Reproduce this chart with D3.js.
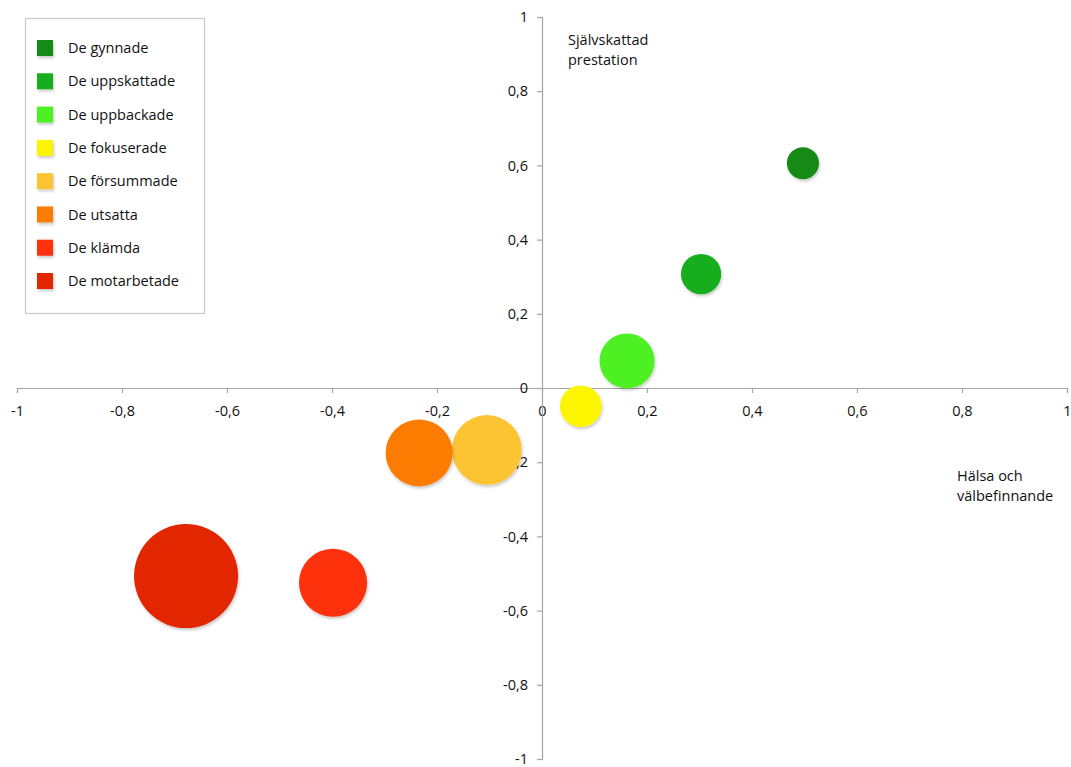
<!DOCTYPE html>
<html>
<head>
<meta charset="utf-8">
<script src="https://cdn.jsdelivr.net/npm/d3@7/dist/d3.min.js"></script>
<style>
  html, body { margin: 0; padding: 0; background: #fff; }
  svg { display: block; font-family: "Open Sans", sans-serif; }
</style>
</head>
<body>
<svg id="chart" width="1071" height="767"></svg>
<script>
// ---- Data ----
const categories = ["De gynnade", "De uppskattade", "De uppbackade", "De fokuserade",
                    "De försummade", "De utsatta", "De klämda", "De motarbetade"];
const xValues = [0.497, 0.303, 0.162, 0.074, -0.105, -0.234, -0.398, -0.678];   // Hälsa och välbefinnande
const yValues = [0.606, 0.307, 0.073, -0.049, -0.167, -0.175, -0.525, -0.507];  // Självskattad prestation
const sizes   = [9.5, 15, 28, 16, 45, 41.5, 43, 100];
const colors  = ["#138a13", "#16ae1c", "#4ef020", "#fcf500", "#fcc431", "#fb7c05", "#fd300a", "#e22502"];
const tickValues = [-1, -0.8, -0.6, -0.4, -0.2, 0, 0.2, 0.4, 0.6, 0.8, 1];
const tickLabels = ["-1", "-0,8", "-0,6", "-0,4", "-0,2", "0", "0,2", "0,4", "0,6", "0,8", "1"];
const xTitle = ["Hälsa och", "välbefinnande"];
const yTitle = ["Självskattad", "prestation"];

// ---- Layout ----
const svg = d3.select("#chart");
const x = d3.scaleLinear().domain([-1, 1]).range([17, 1067]);
const y = d3.scaleLinear().domain([-1, 1]).range([759, 17]);
const r = d3.scaleSqrt().domain([0, 100]).range([0, 52]);
const labelOf = v => tickLabels[tickValues.indexOf(v)];
const textColor = "#111";

const defs = svg.append("defs");
const f = defs.append("filter").attr("id", "shadow")
  .attr("x", "-30%").attr("y", "-30%").attr("width", "160%").attr("height", "160%");
f.append("feDropShadow").attr("dx", 1).attr("dy", 2).attr("stdDeviation", 1.5)
  .attr("flood-color", "#000").attr("flood-opacity", 0.22);

const axisColor = "#a6a6a6";

// X axis
const gx = svg.append("g").attr("transform", `translate(0,${y(0)})`)
  .call(d3.axisBottom(x).tickValues(tickValues).tickFormat(labelOf)
        .tickSize(5).tickSizeOuter(5).tickPadding(10));
// Y axis
const gy = svg.append("g").attr("transform", `translate(${x(0)},0)`)
  .call(d3.axisLeft(y).tickValues(tickValues).tickFormat(labelOf)
        .tickSize(5).tickSizeOuter(5).tickPadding(9));

[gx, gy].forEach(g => {
  g.select(".domain").attr("stroke", axisColor).attr("stroke-width", 1.2);
  g.selectAll(".tick line").attr("stroke", axisColor).attr("stroke-width", 1.2);
  g.selectAll(".tick text").attr("fill", textColor).style("font-size", "14.5px")
    .style("font-family", "'Open Sans', sans-serif");
});
gx.selectAll(".tick text").attr("dy", "0.9em");

// Axis titles
svg.append("text").attr("x", 568).attr("y", 45).attr("fill", textColor)
  .style("font-size", "14.5px")
  .selectAll("tspan").data(yTitle).join("tspan")
  .attr("x", 568).attr("dy", (d, i) => i ? 20 : 0).text(d => d);
svg.append("text").attr("x", 957).attr("y", 481).attr("fill", textColor)
  .style("font-size", "14.5px")
  .selectAll("tspan").data(xTitle).join("tspan")
  .attr("x", 957).attr("dy", (d, i) => i ? 20 : 0).text(d => d);

// Bubbles (largest first so smaller are on top)
const data = categories.map((c, i) => ({ c, x: xValues[i], y: yValues[i], s: sizes[i], col: colors[i] }));
svg.append("g").selectAll("circle")
  .data(data.slice().sort((a, b) => b.s - a.s))
  .join("circle")
  .attr("cx", d => x(d.x)).attr("cy", d => y(d.y)).attr("r", d => r(d.s))
  .attr("fill", d => d.col).attr("filter", "url(#shadow)");

// Legend
const legend = svg.append("g");
legend.append("rect").attr("x", 25.5).attr("y", 18.5).attr("width", 179).attr("height", 295)
  .attr("fill", "#fff").attr("stroke", "#c8c8c8").attr("stroke-width", 1.2);
const ly = d3.scalePoint().domain(categories).range([48, 281]);
const li = legend.selectAll("g.item").data(data).join("g").attr("class", "item")
  .attr("transform", d => `translate(0,${ly(d.c)})`);
li.append("rect").attr("x", 37).attr("y", -8).attr("width", 16).attr("height", 16)
  .attr("fill", d => d.col).attr("filter", "url(#shadow)");
li.append("text").attr("x", 68).attr("dy", "0.35em").attr("fill", textColor)
  .style("font-size", "14.5px").text(d => d.c);
</script>
</body>
</html>
